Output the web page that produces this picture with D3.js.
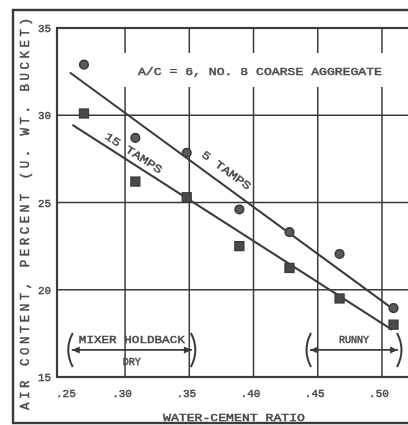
<!DOCTYPE html>
<html>
<head>
<meta charset="utf-8">
<script src="https://cdn.jsdelivr.net/npm/d3@7/dist/d3.min.js"></script>
<style>
  html, body { margin: 0; padding: 0; background: #fff; }
  svg { display: block; }
  text {
    font-family: "Liberation Mono", "DejaVu Sans Mono", monospace;
    fill: #4a4a4a; stroke: #4a4a4a; stroke-width: 0.45px;
  }
</style>
</head>
<body>
<svg id="chart" width="408" height="425"></svg>
<script>
// Air content vs. water-cement ratio, two compaction levels (scanned figure).
const waterCement = [0.268, 0.308, 0.348, 0.389, 0.428, 0.467, 0.509];
const tamps5 = [32.9, 28.7, 27.85, 24.6, 23.3, 22.05, 18.95];
const tamps15 = [30.1, 26.2, 25.3, 22.5, 21.25, 19.5, 18.0];

// Hand-drawn trend lines, endpoints.
const fit5 = [[0.257, 32.45], [0.5095, 18.85]];
const fit15 = [[0.259, 29.45], [0.508, 17.7]];

const xTicks = [0.25, 0.30, 0.35, 0.40, 0.45, 0.50];
const xTickLabels = ['.25', '.30', '.35', '.40', '.45', '.50'];
const yTicks = [15, 20, 25, 30, 35];
const xGrid = [0.30, 0.35, 0.40, 0.45, 0.50];
const yGrid = [20, 25, 30];

// Consistency zones along the bottom.
const zoneTop = ['MIXER HOLDBACK', 'RUNNY'];
const zoneBottom = ['DRY', ''];
const zoneStart = [0.2585, 0.444];
const zoneEnd = [0.352, 0.5125];
const zoneLevel = 16.55;

const INK = '#3a3a3a';
const svg = d3.select('#chart');

svg.append('defs').append('filter')
  .attr('id', 'soft')
  .append('feGaussianBlur')
  .attr('stdDeviation', 0.55);

const g = svg.append('g').attr('filter', 'url(#soft)');

const x = d3.scaleLinear().domain([0.247, 0.523]).range([57, 411.5]);
const y = d3.scaleLinear().domain([15, 35]).range([377, 28]);

// Outer frame (runs off the right edge like the scan).
g.append('rect')
  .attr('x', 13).attr('y', 10)
  .attr('width', 420).attr('height', 413)
  .attr('fill', 'none').attr('stroke', INK).attr('stroke-width', 2.4);

// Gridlines
g.append('g')
  .selectAll('line')
  .data(xGrid)
  .join('line')
  .attr('x1', (d) => x(d)).attr('x2', (d) => x(d))
  .attr('y1', y(35)).attr('y2', y(15))
  .attr('stroke', INK).attr('stroke-width', 1.5);

g.append('g')
  .selectAll('line')
  .data(yGrid)
  .join('line')
  .attr('x1', x(0.247)).attr('x2', x(0.523))
  .attr('y1', (d) => y(d)).attr('y2', (d) => y(d))
  .attr('stroke', INK).attr('stroke-width', 1.5);

// Plot border
g.append('rect')
  .attr('x', x(0.247)).attr('y', y(35))
  .attr('width', x(0.523) - x(0.247)).attr('height', y(15) - y(35))
  .attr('fill', 'none').attr('stroke', INK).attr('stroke-width', 2.2);

// White band behind the caption (the scan's gridlines break there).
g.append('rect')
  .attr('x', 104).attr('y', 53).attr('width', 300).attr('height', 34)
  .attr('fill', '#fff');

g.append('text')
  .attr('x', 138).attr('y', 75)
  .attr('font-size', 10.5)
  .attr('textLength', 244).attr('lengthAdjust', 'spacingAndGlyphs')
  .text('A/C = 6, NO. 8 COARSE AGGREGATE');

// Axis tick labels
g.append('g')
  .selectAll('text')
  .data(yTicks)
  .join('text')
  .attr('x', 51).attr('y', (d) => y(d) + 4)
  .attr('text-anchor', 'end')
  .attr('font-size', 11)
  .attr('textLength', 13).attr('lengthAdjust', 'spacingAndGlyphs')
  .text((d) => d);

g.append('g')
  .selectAll('text')
  .data(xTicks)
  .join('text')
  .attr('x', (d) => x(d) + (d === 0.25 ? 5 : -3))
  .attr('y', 397)
  .attr('text-anchor', 'middle')
  .attr('font-size', 11)
  .text((d, i) => xTickLabels[i]);

// Axis titles
g.append('text')
  .attr('x', 163).attr('y', 421)
  .attr('font-size', 10)
  .attr('textLength', 142).attr('lengthAdjust', 'spacingAndGlyphs')
  .text('WATER-CEMENT RATIO');

g.append('text')
  .attr('transform', 'translate(29,410) rotate(-90)')
  .attr('font-size', 12.5)
  .attr('textLength', 392).attr('lengthAdjust', 'spacing')
  .text('AIR CONTENT, PERCENT (U. WT. BUCKET)');

// Trend lines
const line = d3.line().x((d) => x(d[0])).y((d) => y(d[1]));
[fit5, fit15].forEach((f) => {
  g.append('path')
    .attr('d', line(f))
    .attr('fill', 'none').attr('stroke', INK).attr('stroke-width', 2.1);
});

function angleOf(f) {
  return Math.atan2(y(f[1][1]) - y(f[0][1]), x(f[1][0]) - x(f[0][0])) * 180 / Math.PI;
}
g.append('text')
  .attr('transform', `translate(201,156) rotate(${angleOf(fit5)})`)
  .attr('font-size', 11)
  .attr('textLength', 58).attr('lengthAdjust', 'spacingAndGlyphs')
  .text('5  TAMPS');
g.append('text')
  .attr('transform', `translate(104,138) rotate(${angleOf(fit15)})`)
  .attr('font-size', 11)
  .attr('textLength', 66).attr('lengthAdjust', 'spacingAndGlyphs')
  .text('15 TAMPS');

// Points: 5 tamps as circles, 15 tamps as squares
g.append('g')
  .selectAll('circle')
  .data(waterCement)
  .join('circle')
  .attr('cx', (d) => x(d))
  .attr('cy', (d, i) => y(tamps5[i]))
  .attr('r', 4.3)
  .attr('fill', '#5a5a5a').attr('stroke', INK).attr('stroke-width', 1.6);

g.append('g')
  .selectAll('rect')
  .data(waterCement)
  .join('rect')
  .attr('x', (d) => x(d) - 4.5)
  .attr('y', (d, i) => y(tamps15[i]) - 4.5)
  .attr('width', 9).attr('height', 9)
  .attr('fill', '#4a4a4a').attr('stroke', INK).attr('stroke-width', 1.3);

// Zone brackets
const zoneG = g.append('g');
zoneStart.forEach((s, i) => {
  const x0 = x(s), x1 = x(zoneEnd[i]), yy = y(zoneLevel);
  zoneG.append('line')
    .attr('x1', x0).attr('x2', x1).attr('y1', yy).attr('y2', yy)
    .attr('stroke', INK).attr('stroke-width', 1.8);
  // arrowheads
  zoneG.append('path')
    .attr('d', `M${x0},${yy} l8,-3.5 l0,7 z M${x1},${yy} l-8,-3.5 l0,7 z`)
    .attr('fill', INK);
  // parenthesis ends
  zoneG.append('path')
    .attr('d', `M${x0 + 1},${yy - 17} Q${x0 - 8},${yy} ${x0 + 1},${yy + 17}`)
    .attr('fill', 'none').attr('stroke', INK).attr('stroke-width', 2);
  zoneG.append('path')
    .attr('d', `M${x1 - 1},${yy - 17} Q${x1 + 8},${yy} ${x1 - 1},${yy + 17}`)
    .attr('fill', 'none').attr('stroke', INK).attr('stroke-width', 2);
  const top = zoneG.append('text')
    .attr('x', (x0 + x1) / 2).attr('y', yy - 7)
    .attr('text-anchor', 'middle').attr('font-size', 10)
    .text(zoneTop[i]);
  if (i === 0) top.attr('textLength', 106).attr('lengthAdjust', 'spacingAndGlyphs');
  if (zoneBottom[i]) {
    zoneG.append('text')
      .attr('x', (x0 + x1) / 2).attr('y', yy + 15)
      .attr('text-anchor', 'middle').attr('font-size', 10)
      .text(zoneBottom[i]);
  }
});
</script>
</body>
</html>
